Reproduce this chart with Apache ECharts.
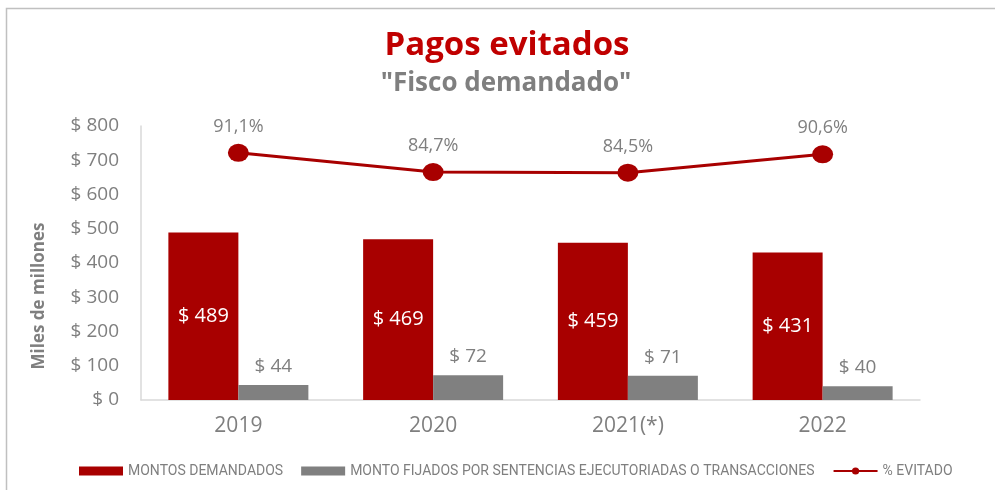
<!DOCTYPE html>
<html>
<head>
<meta charset="utf-8">
<script src="https://cdn.jsdelivr.net/npm/echarts@6/dist/echarts.min.js"></script>
<style>
html,body{margin:0;padding:0;background:#fff;}
#chart{width:995px;height:490px;}
</style>
</head>
<body>
<div id="chart"></div>
<script>
var categories = ['2019', '2020', '2021(*)', '2022'];
var montosDemandados = [489, 469, 459, 431];
var montosFijados = [44, 72, 71, 40];
var pctEvitado = [91.1, 84.7, 84.5, 90.6];
var yTicks = [0, 100, 200, 300, 400, 500, 600, 700, 800];

var seriesNames = ['MONTOS DEMANDADOS', 'MONTO FIJADOS POR SENTENCIAS EJECUTORIADAS O TRANSACCIONES', '% EVITADO'];
var FONT = '"Open Sans", sans-serif';
var GRAY = '#7f7f7f';
var RED = '#a80000';

var chart = echarts.init(document.getElementById('chart'));
chart.setOption({
  animation: false,
  backgroundColor: '#fff',
  grid: { left: 141, right: 75, top: 126, bottom: 90, containLabel: false },
  graphic: [
    { type: 'rect', shape: { x: 6.5, y: 8.5, width: 1100, height: 600 }, style: { fill: 'none', stroke: '#c0c0c0', lineWidth: 1.5 }, silent: true },
    { type: 'text', x: 507, y: 46, style: { text: 'Pagos evitados', font: 'bold 33px ' + FONT, fill: '#c00000', align: 'center', verticalAlign: 'middle' } },
    { type: 'text', x: 506, y: 84, style: { text: '"Fisco demandado"', font: 'bold 26px ' + FONT, fill: GRAY, align: 'center', verticalAlign: 'middle' } },
    { type: 'text', x: 39, y: 296, rotation: Math.PI / 2, style: { text: 'Miles de millones', font: 'bold 17px ' + FONT, fill: GRAY, align: 'center', verticalAlign: 'middle' } }
  ],
  legend: {
    left: 74, top: 459,
    itemWidth: 44, itemHeight: 9, itemGap: 18,
    textStyle: { fontFamily: 'Roboto', fontSize: 14, color: GRAY },
    data: [
      { name: seriesNames[0], icon: 'rect' },
      { name: seriesNames[1], icon: 'rect' },
      { name: seriesNames[2] }
    ]
  },
  xAxis: {
    type: 'category',
    data: categories,
    axisLine: { show: true, lineStyle: { color: '#d9d9d9', width: 1.5 } },
    axisTick: { show: false },
    axisLabel: { fontFamily: FONT, fontSize: 21, color: GRAY, margin: 16 }
  },
  yAxis: [
    {
      type: 'value', min: 0, max: 800, interval: 100,
      axisLine: { show: true, lineStyle: { color: '#d9d9d9', width: 1.5 } },
      axisTick: { show: false },
      splitLine: { show: false },
      axisLabel: { fontFamily: FONT, fontSize: 19, color: GRAY, margin: 22, formatter: function (v) { return '$ ' + v; } }
    },
    { type: 'value', min: 9, max: 100, show: false, splitLine: { show: false } }
  ],
  series: [
    {
      name: seriesNames[0], type: 'bar', data: montosDemandados,
      barWidth: 70, barGap: '0%',
      itemStyle: { color: RED },
      label: { show: true, position: 'inside', fontFamily: FONT, fontSize: 20, color: '#fff', formatter: function (p) { return '$ ' + p.value; } }
    },
    {
      name: seriesNames[1], type: 'bar', data: montosFijados,
      barWidth: 70,
      itemStyle: { color: '#808080' },
      label: { show: true, position: 'top', distance: 9, fontFamily: FONT, fontSize: 19, color: GRAY, formatter: function (p) { return '$ ' + p.value; } }
    },
    {
      name: seriesNames[2], type: 'line', yAxisIndex: 1, data: pctEvitado,
      symbol: 'circle', symbolSize: [21, 18],
      lineStyle: { color: RED, width: 3 },
      itemStyle: { color: RED },
      label: { show: true, position: 'top', distance: 8, fontFamily: FONT, fontSize: 18, color: GRAY, formatter: function (p) { return p.value.toFixed(1).replace('.', ',') + '%'; } }
    }
  ]
});
</script>
</body>
</html>
